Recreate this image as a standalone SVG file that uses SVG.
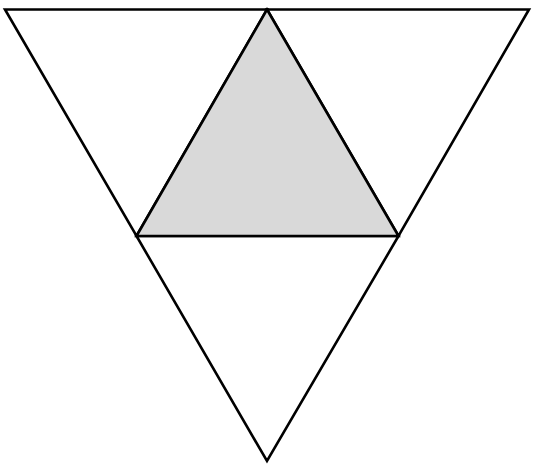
<svg xmlns="http://www.w3.org/2000/svg" width="534" height="468" viewBox="0 0 534 468">
<style>
.t{fill:#fff;stroke:#000;stroke-width:2.6;stroke-linejoin:miter}
.c{fill:#d9d9d9;stroke:#000;stroke-width:2.6;stroke-linejoin:miter}
</style>
<rect width="534" height="468" fill="#fff"/>
<g id="left"><polygon class="t" points="5,9.5 267,9.5 136.5,236"/></g>
<g id="right"><polygon class="t" points="267,9.5 529,9.5 398.5,236"/></g>
<g id="bottom"><polygon class="t" points="136.5,236 398.5,236 267,461"/></g>
<g id="center"><polygon class="c" points="267,9.5 398.5,236 136.5,236"/></g>
</svg>
